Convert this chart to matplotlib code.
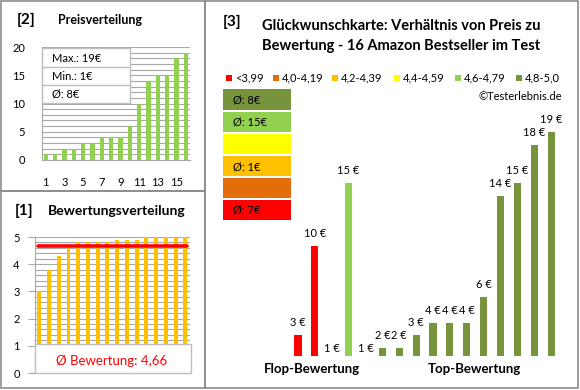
import matplotlib
matplotlib.use("Agg")
import matplotlib.pyplot as plt
from matplotlib.patches import Rectangle

plt.rcParams['font.family'] = ['Lato', 'DejaVu Sans']

# product prices in chart order (flop -> top)
prices = [3, 10, 1, 15, 1, 2, 2, 3, 4, 4, 4, 6, 14, 15, 18, 19]
cat_idx = [0, 0, 2, 4, 5, 5, 5, 5, 5, 5, 5, 5, 5, 5, 5, 5]
ratings = [3.0, 3.8, 4.3, 4.6, 4.8, 4.8, 4.8, 4.8, 4.9, 4.9, 4.9, 5.0, 5.0, 5.0, 5.0, 5.0]
cat_labels = ["<3,99", "4,0-4,19", "4,2-4,39", "4,4-4,59", "4,6-4,79", "4,8-5,0"]
cat_colors = ["#FF0000", "#E46C0A", "#FFC000", "#FFFF00", "#92D050", "#77933C"]
cat_avg = ["7€", "", "1€", "", "15€", "8€"]
price_sorted = sorted(prices)
price_ticks = [1, 3, 5, 7, 9, 11, 13, 15]
avg_rating = "4,66"
avg_rating_val = 4.66

W, H = 580, 390
fig = plt.figure(figsize=(W / 100, H / 100), dpi=100)


def box(x0, y0, x1, y1):
    # pixel box -> figure fraction [left, bottom, width, height]
    return [x0 / W, 1 - y1 / H, (x1 - x0) / W, (y1 - y0) / H]


def ftext(x, y, s, **kw):
    fig.text(x / W, 1 - y / H, s, **kw)


def frect(x0, y0, x1, y1, **kw):
    fig.patches.append(Rectangle((x0 / W, 1 - y1 / H), (x1 - x0) / W, (y1 - y0) / H,
                                 transform=fig.transFigure, figure=fig, **kw))


# panel borders
for b in [(1, 1, 205, 191), (1, 191, 205, 388), (205, 1, 578, 388)]:
    frect(*b, fill=False, edgecolor="#8C8C8C", lw=1.2)

grey = "#A8A8A8"

# ---- [2] Preisverteilung ----
ftext(17, 20, "[2]", fontsize=11, fontweight="bold", va="center")
ftext(58, 20, "Preisverteilung", fontsize=9, fontweight="bold", va="center")
ax1 = fig.add_axes(box(42, 47, 190, 160))
ax1.bar(range(1, 17), price_sorted, width=0.45, color="#92D050", zorder=3)
ax1.set_xlim(0.6, 16.45)
ax1.set_ylim(0, 20)
ax1.set_yticks([0, 5, 10, 15, 20])
ax1.set_yticks(range(0, 21), minor=True)
ax1.set_xticks(price_ticks)
ax1.grid(True, axis="y", which="both", color=grey, lw=0.8, zorder=0)
for s in ["top", "right"]:
    ax1.spines[s].set_visible(False)
for s in ["left", "bottom"]:
    ax1.spines[s].set_color(grey)
ax1.tick_params(axis="both", which="both", length=0, labelsize=8)
ax1.tick_params(axis="x", pad=12)
ax1.tick_params(axis="y", pad=12)
# info box
frect(42, 48, 130, 103, facecolor="white", edgecolor="#BFBFBF", lw=1, zorder=5)
for yy in (66.5, 85):
    fig.lines.append(plt.Line2D([42 / W, 130 / W], [1 - yy / H, 1 - yy / H],
                                transform=fig.transFigure, color="#BFBFBF", lw=1, zorder=6))
ftext(52, 58, "Max.: %d€" % max(prices), fontsize=8, va="center", zorder=7)
ftext(52, 76, "Min.: %d€" % min(prices), fontsize=8, va="center", zorder=7)
ftext(52, 94, "Ø: %d€" % round(sum(prices) / len(prices)), fontsize=8, va="center", zorder=7)

# ---- [1] Bewertungsverteilung ----
ftext(15, 211, "[1]", fontsize=11, fontweight="bold", va="center")
ftext(48, 211, "Bewertungsverteilung", fontsize=10, fontweight="bold", va="center")
ax2 = fig.add_axes(box(35, 237, 190, 373))
ax2.bar(range(1, 17), ratings, width=0.4, color="#FFC000", zorder=3)
ax2.set_xlim(0.56, 16.48)
ax2.set_ylim(0, 5)
ax2.set_yticks(range(0, 6))
ax2.set_yticks([i * 0.2 for i in range(26)], minor=True)
ax2.set_xticks([])
ax2.grid(True, axis="y", which="both", color=grey, lw=0.8, zorder=0)
for s in ["top", "right", "bottom"]:
    ax2.spines[s].set_visible(False)
ax2.spines["left"].set_color(grey)
ax2.tick_params(axis="y", which="major", length=5, color=grey, labelsize=8, pad=6)
ax2.tick_params(axis="y", which="minor", length=0)
ax2.plot([0.85, 16.2], [avg_rating_val, avg_rating_val], color="#FF0000", lw=2.6,
         zorder=4, solid_capstyle="round")
frect(35, 344, 191, 373, facecolor="white", edgecolor="#BFBFBF", lw=1, zorder=5)
ftext(112, 361, "Ø Bewertung: " + avg_rating, fontsize=9.5, color="#FF0000",
      ha="center", va="center", zorder=7)

# ---- [3] Preis / Bewertung ----
ftext(223, 22, "[3]", fontsize=11, fontweight="bold", va="center")
ftext(401, 26, "Glückwunschkarte: Verhältnis von Preis zu", fontsize=10.5,
      fontweight="bold", ha="center", va="center")
ftext(401, 46, "Bewertung - 16 Amazon Bestseller im Test", fontsize=10.5,
      fontweight="bold", ha="center", va="center")
leg_x = [226, 273, 332, 394, 455, 516]
for lx, lab, col in zip(leg_x, cat_labels, cat_colors):
    frect(lx, 74.5, lx + 6, 80.5, facecolor=col, edgecolor="none")
    ftext(lx + 9, 78, lab, fontsize=8, va="center")
ftext(562, 97, "©Testerlebnis.de", fontsize=8, ha="right", va="center")

box_rows = [(89, 110), (112, 132), (134, 154), (156, 176), (178, 198), (200, 220)]
for (y0, y1), ci in zip(box_rows, [5, 4, 3, 2, 1, 0]):
    frect(223, y0, 291, y1, facecolor=cat_colors[ci], edgecolor="none")
    if cat_avg[ci]:
        ftext(233, (y0 + y1) / 2 + 0.5, "Ø: " + cat_avg[ci], fontsize=8, va="center")

ax3 = fig.add_axes(box(289.6, 120, 559.6, 356))
xs = list(range(len(prices)))
ax3.bar(xs, prices, width=0.42, color=[cat_colors[c] for c in cat_idx])
ax3.set_xlim(-0.5, 15.5)
ymin = 1.37
ax3.set_ylim(ymin, ymin + 236 / 12.7)
ax3.axis("off")
for x, v in zip(xs, prices):
    ax3.annotate("%d €" % v, (x, v), xytext=(0, 5), textcoords="offset points",
                 ha="center", va="bottom", fontsize=8, annotation_clip=False)
ftext(312, 369, "Flop-Bewertung", fontsize=9.5, fontweight="bold", ha="center", va="center")
ftext(474, 369, "Top-Bewertung", fontsize=9.5, fontweight="bold", ha="center", va="center")

fig.savefig("out.png", dpi=100)
